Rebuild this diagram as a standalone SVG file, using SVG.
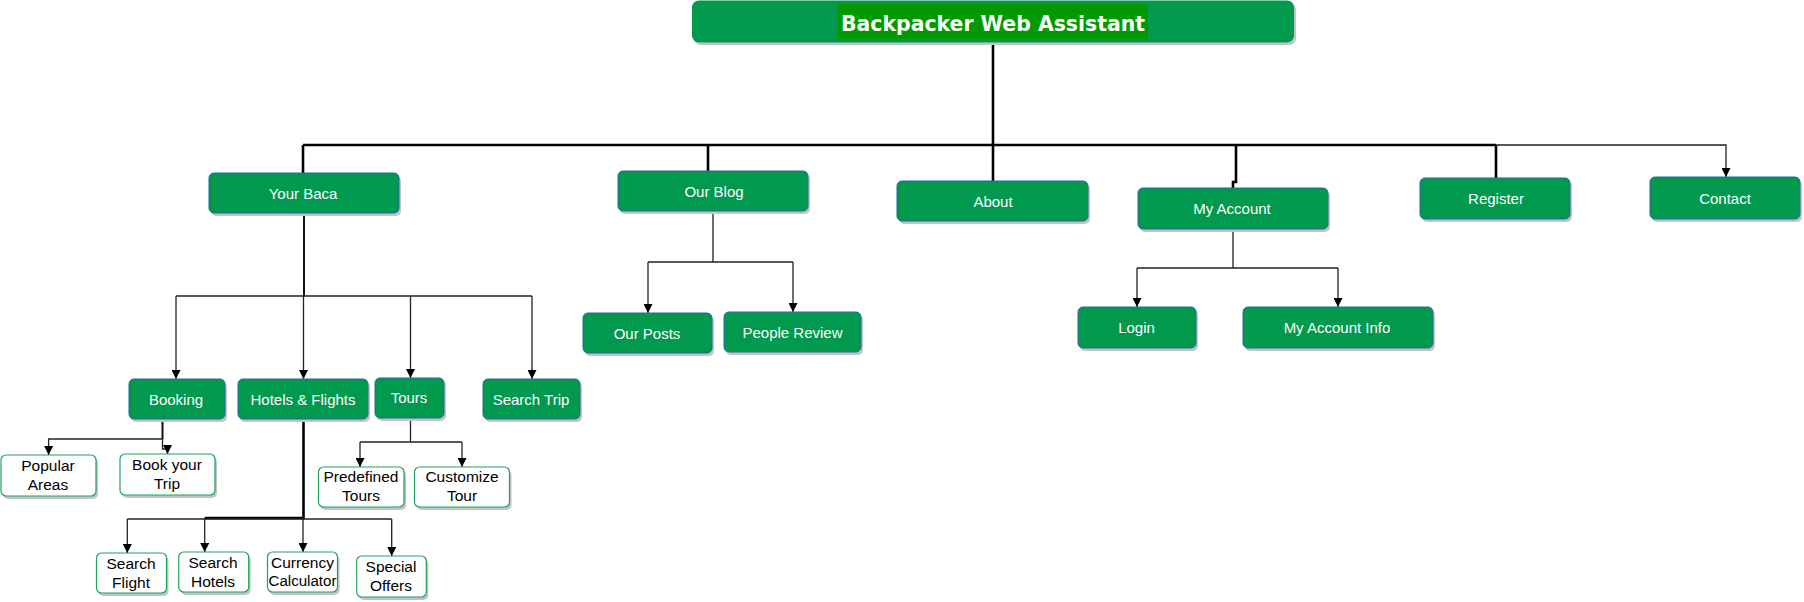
<svg xmlns="http://www.w3.org/2000/svg" width="1804" height="602" viewBox="0 0 1804 602">
<defs>
<marker id="arr" viewBox="0 0 10 10" refX="10" refY="5" markerWidth="9" markerHeight="9" markerUnits="userSpaceOnUse" orient="auto">
<path d="M0,0 L10,5 L0,10 z" fill="#000"/>
</marker>
</defs>
<style>
.sh{fill:#c4c4c4}
.g{fill:#00994e;stroke:#2466a8;stroke-width:1}
.w{fill:#fff;stroke:#1ea35a;stroke-width:1.2}
.gt{font-family:"Liberation Sans",Arial,sans-serif;font-size:15px;fill:#fff;text-anchor:middle}
.wt{font-family:"Liberation Sans",Arial,sans-serif;font-size:15.5px;fill:#000;text-anchor:middle}
.thick{fill:none;stroke:#000;stroke-width:2.6}
.mid{fill:none;stroke:#111;stroke-width:2}
.thin{fill:none;stroke:#222;stroke-width:1.3}
.ar{marker-end:url(#arr)}
</style>

<g id="connectors">
<path class="thick" d="M993,42 V181"/>
<path class="thick" d="M303,145 H1496"/>
<path class="thick" d="M303,145 V173"/>
<path class="thick" d="M708,145 V171"/>
<path class="thick" d="M1236,145 V182 H1233 V188"/>
<path class="thick" d="M1496,145 V178"/>
<path class="thin ar" d="M1496,145 H1726 V177"/>

<path class="mid" d="M304,213 V296"/>
<path class="thin" d="M176,296 H532"/>
<path class="thin ar" d="M176,296 V379"/>
<path class="thin ar" d="M303.5,296 V379"/>
<path class="thin ar" d="M410.5,296 V378"/>
<path class="thin ar" d="M532,296 V379"/>

<path class="thin" d="M713,212 V262 M648,262 H793"/>
<path class="thin ar" d="M648,262 V313"/>
<path class="thin ar" d="M793,262 V312"/>

<path class="thin" d="M1233,229 V268 M1137,268 H1338"/>
<path class="thin ar" d="M1137,268 V307"/>
<path class="thin ar" d="M1338,268 V307"/>

<path class="mid" d="M162.5,420 V439"/>
<path class="thin ar" d="M162.5,439 V449 H167.5 V454"/>
<path class="thin ar" d="M162.5,439 H48.6 V455"/>

<path class="thick" d="M303.5,419 V518 H204.7"/>
<path class="thin" d="M127.3,519 H391.7"/>
<path class="thin ar" d="M127.3,519 V553"/>
<path class="thin ar" d="M204.7,518 V552"/>
<path class="thin ar" d="M303,518 V552"/>
<path class="thin ar" d="M391.7,519 V556"/>

<path class="thin" d="M410.5,418 V442 M360,442 H462"/>
<path class="thin ar" d="M360,442 V467"/>
<path class="thin ar" d="M462,442 V467"/>
</g>

<g id="root">
<rect class="sh" x="694" y="3" width="602" height="42" rx="7"/>
<rect x="692" y="0.5" width="602" height="42" rx="7" fill="#00994e"/>
<rect x="838" y="4" width="310" height="35" fill="#009900"/>
<text x="993" y="31" font-family="'DejaVu Sans',sans-serif" font-weight="bold" font-size="22" fill="#fff" text-anchor="middle" textLength="304" lengthAdjust="spacingAndGlyphs">Backpacker Web Assistant</text>
</g>

<g id="your-baca"><rect class="sh" x="211" y="176" width="190" height="40" rx="5"/><rect class="g" x="209" y="173" width="190" height="40" rx="5"/><text class="gt" x="303" y="198.5">Your Baca</text></g>
<g id="our-blog"><rect class="sh" x="620" y="174" width="190" height="40" rx="5"/><rect class="g" x="618" y="171" width="190" height="40" rx="5"/><text class="gt" x="714" y="197">Our Blog</text></g>
<g id="about"><rect class="sh" x="899" y="184" width="191" height="40" rx="5"/><rect class="g" x="897" y="181" width="191" height="40" rx="5"/><text class="gt" x="993" y="207">About</text></g>
<g id="my-account"><rect class="sh" x="1140" y="191" width="190" height="41" rx="5"/><rect class="g" x="1138" y="188" width="190" height="41" rx="5"/><text class="gt" x="1232" y="214">My Account</text></g>
<g id="register"><rect class="sh" x="1422" y="181" width="150" height="41" rx="5"/><rect class="g" x="1420" y="178" width="150" height="41" rx="5"/><text class="gt" x="1496" y="204">Register</text></g>
<g id="contact"><rect class="sh" x="1652" y="180" width="150" height="42" rx="5"/><rect class="g" x="1650" y="177" width="150" height="42" rx="5"/><text class="gt" x="1725" y="204">Contact</text></g>

<g id="booking"><rect class="sh" x="131" y="382" width="96" height="40" rx="5"/><rect class="g" x="129" y="379" width="96" height="40" rx="5"/><text class="gt" x="176" y="404.5">Booking</text></g>
<g id="hotels-flights"><rect class="sh" x="240" y="382" width="130" height="40" rx="5"/><rect class="g" x="238" y="379" width="130" height="40" rx="5"/><text class="gt" x="303" y="404.5">Hotels &amp; Flights</text></g>
<g id="tours"><rect class="sh" x="377" y="381" width="69" height="40" rx="5"/><rect class="g" x="375" y="378" width="69" height="40" rx="5"/><text class="gt" x="409" y="403">Tours</text></g>
<g id="search-trip"><rect class="sh" x="485" y="382" width="97" height="40" rx="5"/><rect class="g" x="483" y="379" width="97" height="40" rx="5"/><text class="gt" x="531" y="404.5">Search Trip</text></g>
<g id="our-posts"><rect class="sh" x="585" y="316" width="129" height="40" rx="5"/><rect class="g" x="583" y="313" width="129" height="40" rx="5"/><text class="gt" x="647" y="338.5">Our Posts</text></g>
<g id="people-review"><rect class="sh" x="726" y="315" width="137" height="40" rx="5"/><rect class="g" x="724" y="312" width="137" height="40" rx="5"/><text class="gt" x="792.5" y="337.5">People Review</text></g>
<g id="login"><rect class="sh" x="1080" y="310" width="118" height="41" rx="5"/><rect class="g" x="1078" y="307" width="118" height="41" rx="5"/><text class="gt" x="1136.5" y="332.5">Login</text></g>
<g id="my-account-info"><rect class="sh" x="1245" y="310" width="190" height="41" rx="5"/><rect class="g" x="1243" y="307" width="190" height="41" rx="5"/><text class="gt" x="1337" y="332.5">My Account Info</text></g>

<g id="popular-areas"><rect class="sh" x="3" y="458" width="95" height="41" rx="5"/><rect class="w" x="1" y="455" width="95" height="41" rx="5"/><text class="wt" x="48" y="471">Popular</text><text class="wt" x="48" y="490">Areas</text></g>
<g id="book-your-trip"><rect class="sh" x="122" y="457" width="95" height="41" rx="5"/><rect class="w" x="120" y="454" width="95" height="41" rx="5"/><text class="wt" x="167" y="470">Book your</text><text class="wt" x="167" y="489">Trip</text></g>
<g id="predefined-tours"><rect class="sh" x="320.5" y="470" width="85.5" height="40" rx="5"/><rect class="w" x="318.5" y="467" width="85.5" height="40" rx="5"/><text class="wt" x="361" y="482">Predefined</text><text class="wt" x="361" y="501">Tours</text></g>
<g id="customize-tour"><rect class="sh" x="416.5" y="470" width="95" height="40" rx="5"/><rect class="w" x="414.5" y="467" width="95" height="40" rx="5"/><text class="wt" x="462" y="482">Customize</text><text class="wt" x="462" y="501">Tour</text></g>
<g id="search-flight"><rect class="sh" x="98.5" y="556" width="70" height="40" rx="5"/><rect class="w" x="96.5" y="553" width="70" height="40" rx="5"/><text class="wt" x="131" y="569">Search</text><text class="wt" x="131" y="587.5">Flight</text></g>
<g id="search-hotels"><rect class="sh" x="180.7" y="555" width="70" height="40" rx="5"/><rect class="w" x="178.7" y="552" width="70" height="40" rx="5"/><text class="wt" x="213" y="568">Search</text><text class="wt" x="213" y="586.5">Hotels</text></g>
<g id="currency-calculator"><rect class="sh" x="269.5" y="555" width="70" height="40" rx="5"/><rect class="w" x="267.5" y="552" width="70" height="40" rx="5"/><text class="wt" x="302.5" y="568">Currency</text><text class="wt" x="302.5" y="586" textLength="68" lengthAdjust="spacingAndGlyphs">Calculator</text></g>
<g id="special-offers"><rect class="sh" x="358.7" y="559" width="69.6" height="41" rx="5"/><rect class="w" x="356.7" y="556" width="69.6" height="41" rx="5"/><text class="wt" x="391" y="572">Special</text><text class="wt" x="391" y="590.5">Offers</text></g>
</svg>
